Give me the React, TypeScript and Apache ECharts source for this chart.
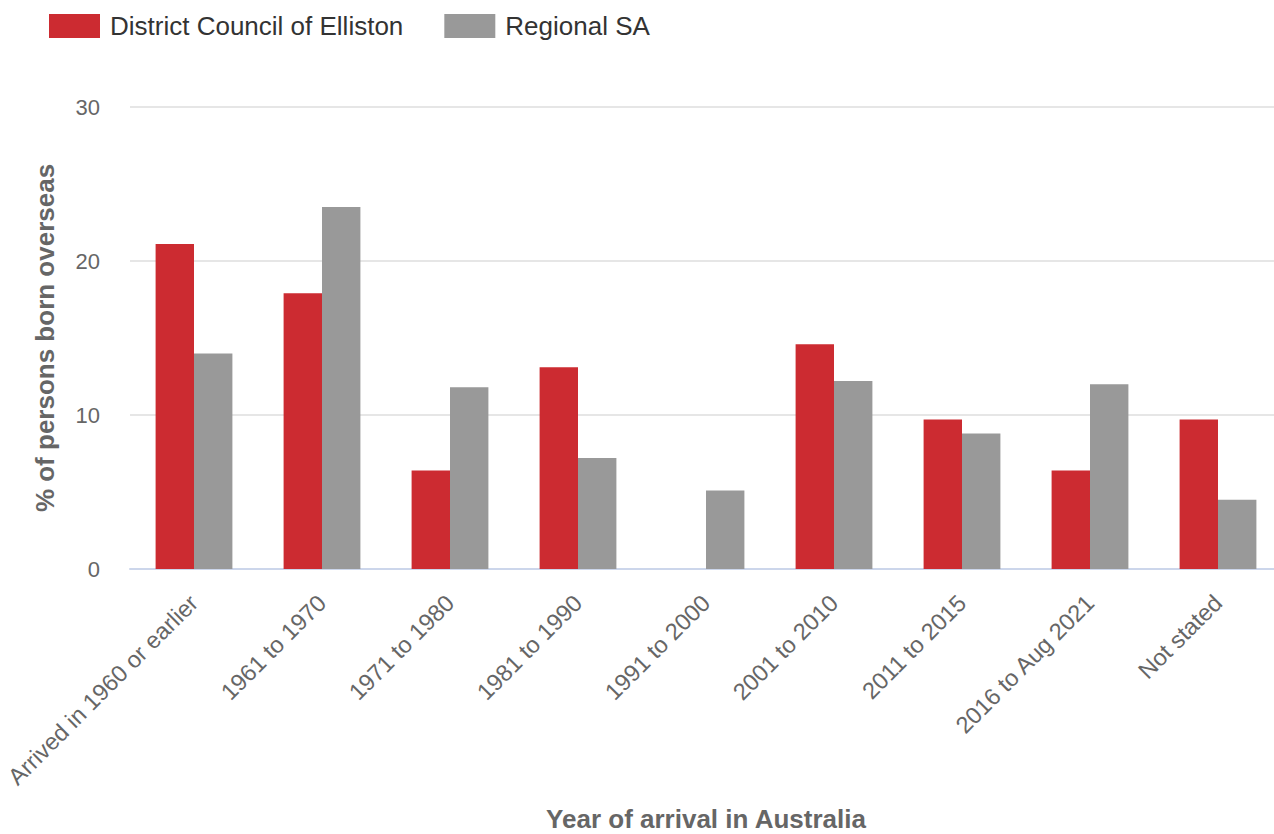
import React, { useEffect, useRef } from "react";
import * as echarts from "echarts";

const categories = [
  "Arrived in 1960 or earlier",
  "1961 to 1970",
  "1971 to 1980",
  "1981 to 1990",
  "1991 to 2000",
  "2001 to 2010",
  "2011 to 2015",
  "2016 to Aug 2021",
  "Not stated",
];
const ellistonValues = [21.1, 17.9, 6.4, 13.1, 0, 14.6, 9.7, 6.4, 9.7];
const regionalValues = [14.0, 23.5, 11.8, 7.2, 5.1, 12.2, 8.8, 12.0, 4.5];
const seriesNames = ["District Council of Elliston", "Regional SA"];
const yTicks = { min: 0, max: 30, interval: 10 };

const FONT = "'Liberation Sans', Arial, Helvetica, sans-serif";

export default function App() {
  const ref = useRef<HTMLDivElement>(null);
  useEffect(() => {
    document.body.style.overflow = "hidden";
    if (!ref.current) return;
    const chart = echarts.init(ref.current, null, { renderer: "svg" });
    chart.setOption({
      animation: false,
      textStyle: { fontFamily: FONT },
      legend: {
        left: 49,
        top: 13,
        padding: 0,
        itemWidth: 51,
        itemHeight: 24,
        itemGap: 41,
        icon: "rect",
        textStyle: { fontSize: 26, color: "#333333", fontFamily: FONT, padding: [0, 0, 0, 5] },
        data: seriesNames,
      },
      grid: {
        left: 130,
        width: 1152,
        top: 107,
        height: 462,
        containLabel: false,
        outerBoundsMode: "none",
      },
      xAxis: {
        type: "category",
        data: categories,
        name: "Year of arrival in Australia",
        nameLocation: "middle",
        nameGap: 237,
        nameTextStyle: {
          fontSize: 26,
          lineHeight: 26,
          fontWeight: "bold",
          color: "#666666",
          fontFamily: FONT,
        },
        axisLine: { lineStyle: { color: "#ccd6eb", width: 2 } },
        axisTick: { alignWithLabel: true, length: 18, lineStyle: { color: "#ccd6eb", width: 2 } },
        axisLabel: {
          rotate: 45,
          margin: 30,
          fontSize: 23.5,
          color: "#666666",
          fontFamily: FONT,
          interval: 0,
        },
      },
      yAxis: {
        type: "value",
        min: yTicks.min,
        max: yTicks.max,
        interval: yTicks.interval,
        name: "% of persons born overseas",
        nameLocation: "middle",
        nameGap: 72,
        nameTextStyle: { fontSize: 26, fontWeight: "bold", color: "#666666", fontFamily: FONT },
        axisLabel: { fontSize: 22, color: "#666666", margin: 30, fontFamily: FONT },
        splitLine: { lineStyle: { color: "#e6e6e6", width: 2 } },
        axisLine: { show: false },
        axisTick: { show: false },
      },
      series: [
        {
          name: seriesNames[0],
          type: "bar",
          data: ellistonValues,
          itemStyle: { color: "#cc2b31" },
          barGap: "0%",
          barCategoryGap: "40%",
        },
        {
          name: seriesNames[1],
          type: "bar",
          data: regionalValues,
          itemStyle: { color: "#999999" },
          barGap: "0%",
          barCategoryGap: "40%",
        },
      ],
    });
    return () => chart.dispose();
  }, []);
  return (
    <div
      ref={ref}
      style={{ position: "fixed", left: 0, top: 0, width: 1282, height: 834, background: "#ffffff" }}
    />
  );
}
